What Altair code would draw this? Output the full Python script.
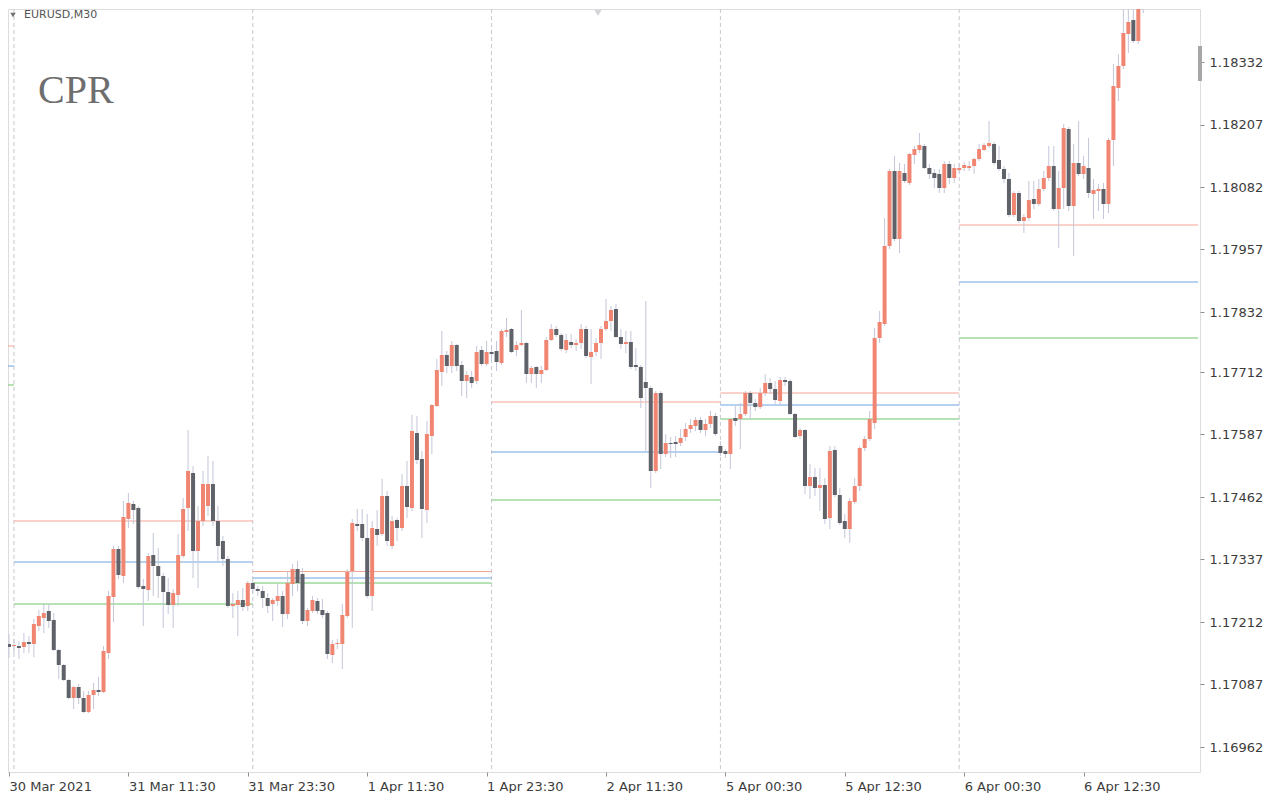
import altair as alt
import pandas as pd

# ---- candle data (EURUSD M30), index 0 = 30 Mar 23:30 ----
opens = [1.17168,1.17164,1.17164,1.17162,1.17172,1.17168,1.17204,1.17220,1.17234,1.17216,
1.17156,1.17126,1.17096,1.17060,1.17082,1.17060,1.17032,1.17066,1.17076,1.17072,
1.17150,1.17262,1.17358,1.17304,1.17418,1.17448,1.17440,1.17284,1.17276,1.17346,
1.17324,1.17304,1.17272,1.17246,1.17266,1.17344,1.17440,1.17510,1.17354,1.17414,
1.17444,1.17488,1.17414,1.17374,1.17338,1.17244,1.17246,1.17256,1.17244,1.17290,
1.17278,1.17274,1.17260,1.17248,1.17254,1.17264,1.17228,1.17288,1.17318,1.17308,
1.17214,1.17234,1.17254,1.17236,1.17230,1.17146,1.17168,1.17168,1.17224,1.17314,
1.17408,1.17408,1.17380,1.17264,1.17398,1.17388,1.17464,1.17364,1.17416,1.17400,
1.17484,1.17440,1.17590,1.17538,1.17436,1.17584,1.17644,1.17712,1.17746,1.17724,
1.17766,1.17726,1.17694,1.17702,1.17694,1.17756,1.17728,1.17752,1.17754,1.17730,
1.17792,1.17798,1.17756,1.17766,1.17770,1.17708,1.17722,1.17708,1.17716,1.17776,
1.17798,1.17786,1.17756,1.17772,1.17766,1.17770,1.17798,1.17742,1.17752,1.17770,
1.17798,1.17814,1.17838,1.17782,1.17768,1.17772,1.17726,1.17722,1.17692,1.17680,
1.17514,1.17670,1.17548,1.17570,1.17572,1.17570,1.17582,1.17598,1.17604,1.17616,
1.17596,1.17608,1.17624,1.17564,1.17554,1.17548,1.17620,1.17618,1.17628,1.17670,
1.17650,1.17642,1.17670,1.17690,1.17678,1.17654,1.17696,1.17694,1.17628,1.17584,
1.17596,1.17484,1.17502,1.17480,1.17486,1.17420,1.17556,1.17466,1.17414,1.17398,
1.17452,1.17484,1.17560,1.17578,1.17610,1.17780,1.17808,1.17964,1.18114,1.17978,
1.18110,1.18090,1.18146,1.18156,1.18164,1.18120,1.18110,1.18108,1.18080,1.18128,
1.18100,1.18116,1.18120,1.18120,1.18124,1.18138,1.18156,1.18164,1.18168,1.18136,
1.18118,1.18098,1.18026,1.18070,1.18014,1.18020,1.18058,1.18048,1.18078,1.18100,
1.18124,1.18038,1.18080,1.18198,1.18044,1.18130,1.18108,1.18120,1.18068,1.18074,
1.18078,1.18048,1.18176,1.18280,1.18324,1.18388,1.18416,1.18374,1.18438]
highs = [1.17188,1.17178,1.17174,1.17190,1.17184,1.17218,1.17236,1.17248,1.17248,1.17230,
1.17158,1.17128,1.17098,1.17084,1.17088,1.17074,1.17074,1.17090,1.17102,1.17164,
1.17274,1.17364,1.17364,1.17454,1.17470,1.17454,1.17444,1.17298,1.17350,1.17390,
1.17360,1.17310,1.17300,1.17278,1.17388,1.17460,1.17596,1.17524,1.17444,1.17514,
1.17544,1.17534,1.17444,1.17384,1.17344,1.17270,1.17274,1.17280,1.17294,1.17296,
1.17284,1.17284,1.17270,1.17260,1.17288,1.17274,1.17314,1.17328,1.17334,1.17320,
1.17240,1.17264,1.17260,1.17258,1.17234,1.17176,1.17178,1.17248,1.17318,1.17418,
1.17438,1.17438,1.17428,1.17414,1.17436,1.17498,1.17474,1.17424,1.17420,1.17508,
1.17534,1.17626,1.17624,1.17554,1.17614,1.17648,1.17738,1.17794,1.17754,1.17774,
1.17768,1.17734,1.17714,1.17714,1.17764,1.17764,1.17774,1.17764,1.17774,1.17798,
1.17820,1.17800,1.17774,1.17836,1.17772,1.17724,1.17724,1.17724,1.17782,1.17808,
1.17804,1.17790,1.17788,1.17788,1.17778,1.17808,1.17804,1.17798,1.17780,1.17804,
1.17858,1.17844,1.17848,1.17798,1.17794,1.17794,1.17760,1.17726,1.17854,1.17684,
1.17674,1.17674,1.17588,1.17582,1.17584,1.17598,1.17610,1.17618,1.17622,1.17622,
1.17618,1.17634,1.17630,1.17574,1.17558,1.17618,1.17644,1.17650,1.17674,1.17674,
1.17658,1.17680,1.17708,1.17700,1.17694,1.17702,1.17702,1.17698,1.17630,1.17600,
1.17598,1.17528,1.17520,1.17520,1.17500,1.17564,1.17564,1.17480,1.17428,1.17460,
1.17500,1.17564,1.17584,1.17634,1.17800,1.17834,1.18020,1.18118,1.18144,1.18130,
1.18128,1.18150,1.18164,1.18190,1.18168,1.18128,1.18118,1.18118,1.18134,1.18134,
1.18128,1.18130,1.18132,1.18134,1.18140,1.18168,1.18170,1.18214,1.18172,1.18164,
1.18124,1.18110,1.18074,1.18074,1.18028,1.18094,1.18094,1.18098,1.18114,1.18164,
1.18164,1.18114,1.18208,1.18202,1.18168,1.18214,1.18144,1.18180,1.18098,1.18088,
1.18090,1.18180,1.18328,1.18348,1.18470,1.18470,1.18470,1.18470,1.18470]
lows = [1.17140,1.17150,1.17138,1.17150,1.17150,1.17142,1.17194,1.17190,1.17200,1.17154,
1.17098,1.17094,1.17058,1.17038,1.17048,1.17030,1.17030,1.17038,1.17064,1.17070,
1.17138,1.17212,1.17298,1.17290,1.17400,1.17408,1.17278,1.17204,1.17254,1.17264,
1.17260,1.17200,1.17228,1.17200,1.17244,1.17340,1.17394,1.17300,1.17280,1.17404,
1.17424,1.17404,1.17334,1.17324,1.17240,1.17220,1.17184,1.17234,1.17234,1.17268,
1.17264,1.17240,1.17230,1.17214,1.17244,1.17202,1.17218,1.17264,1.17274,1.17208,
1.17204,1.17230,1.17228,1.17220,1.17138,1.17130,1.17158,1.17118,1.17220,1.17200,
1.17394,1.17374,1.17260,1.17234,1.17364,1.17384,1.17364,1.17358,1.17374,1.17394,
1.17420,1.17434,1.17528,1.17380,1.17410,1.17548,1.17642,1.17684,1.17710,1.17710,
1.17714,1.17664,1.17660,1.17680,1.17688,1.17724,1.17724,1.17734,1.17714,1.17726,
1.17782,1.17750,1.17744,1.17764,1.17690,1.17690,1.17680,1.17690,1.17714,1.17774,
1.17782,1.17754,1.17750,1.17760,1.17754,1.17758,1.17740,1.17688,1.17744,1.17738,
1.17794,1.17794,1.17780,1.17758,1.17750,1.17718,1.17714,1.17640,1.17554,1.17480,
1.17510,1.17518,1.17542,1.17540,1.17542,1.17564,1.17574,1.17590,1.17594,1.17590,
1.17584,1.17600,1.17584,1.17544,1.17540,1.17518,1.17604,1.17558,1.17624,1.17618,
1.17634,1.17638,1.17664,1.17668,1.17648,1.17644,1.17684,1.17626,1.17580,1.17578,
1.17468,1.17458,1.17464,1.17434,1.17408,1.17398,1.17462,1.17406,1.17380,1.17370,
1.17448,1.17474,1.17554,1.17574,1.17598,1.17770,1.17804,1.17958,1.17974,1.17950,
1.18090,1.18086,1.18128,1.18150,1.18118,1.18098,1.18080,1.18070,1.18070,1.18088,
1.18090,1.18110,1.18114,1.18114,1.18108,1.18134,1.18154,1.18160,1.18126,1.18114,
1.18090,1.18022,1.18022,1.18010,1.17990,1.18014,1.18038,1.18044,1.18074,1.18094,
1.18034,1.17960,1.18038,1.18034,1.17944,1.18104,1.18098,1.18060,1.18018,1.18034,
1.18018,1.18030,1.18124,1.18254,1.18318,1.18350,1.18370,1.18368,1.18430]
closes = [1.17162,1.17166,1.17160,1.17172,1.17168,1.17208,1.17224,1.17230,1.17214,1.17156,
1.17126,1.17096,1.17060,1.17082,1.17060,1.17032,1.17066,1.17076,1.17072,1.17154,
1.17264,1.17358,1.17306,1.17422,1.17450,1.17436,1.17282,1.17278,1.17344,1.17324,
1.17304,1.17272,1.17246,1.17270,1.17346,1.17438,1.17514,1.17354,1.17414,1.17488,
1.17488,1.17414,1.17364,1.17338,1.17244,1.17248,1.17256,1.17242,1.17290,1.17278,
1.17274,1.17260,1.17244,1.17256,1.17264,1.17228,1.17290,1.17318,1.17290,1.17214,
1.17236,1.17256,1.17234,1.17226,1.17148,1.17168,1.17170,1.17226,1.17312,1.17410,
1.17404,1.17380,1.17264,1.17400,1.17386,1.17464,1.17374,1.17414,1.17400,1.17484,
1.17442,1.17594,1.17536,1.17438,1.17588,1.17646,1.17716,1.17746,1.17724,1.17766,
1.17724,1.17694,1.17706,1.17690,1.17752,1.17728,1.17752,1.17748,1.17732,1.17794,
1.17796,1.17752,1.17766,1.17770,1.17708,1.17720,1.17708,1.17716,1.17776,1.17798,
1.17786,1.17758,1.17776,1.17766,1.17770,1.17798,1.17744,1.17752,1.17770,1.17798,
1.17814,1.17836,1.17782,1.17768,1.17772,1.17722,1.17722,1.17660,1.17680,1.17514,
1.17670,1.17548,1.17570,1.17568,1.17568,1.17580,1.17598,1.17606,1.17616,1.17596,
1.17608,1.17624,1.17588,1.17550,1.17548,1.17618,1.17614,1.17628,1.17670,1.17650,
1.17642,1.17670,1.17690,1.17678,1.17656,1.17696,1.17692,1.17628,1.17582,1.17596,
1.17484,1.17502,1.17480,1.17486,1.17418,1.17554,1.17466,1.17410,1.17398,1.17454,
1.17484,1.17560,1.17578,1.17618,1.17780,1.17812,1.17964,1.18114,1.17978,1.18114,
1.18094,1.18148,1.18158,1.18166,1.18120,1.18108,1.18100,1.18080,1.18128,1.18100,
1.18120,1.18120,1.18126,1.18124,1.18138,1.18158,1.18166,1.18170,1.18130,1.18118,
1.18098,1.18026,1.18070,1.18014,1.18022,1.18056,1.18048,1.18078,1.18100,1.18124,
1.18038,1.18080,1.18200,1.18044,1.18130,1.18108,1.18124,1.18070,1.18076,1.18078,
1.18048,1.18176,1.18284,1.18324,1.18390,1.18412,1.18374,1.18440,1.18448]

# ---- CPR levels per trading day (top central, pivot, bottom central) ----
day_start = [-0.2, 1, 49, 97, 143, 191]
day_end = [1, 49, 97, 143, 191, 239]
cpr_top = [1.17764, 1.17414, 1.17313, 1.17652, 1.17670, 1.18006]
cpr_pivot = [1.17724, 1.17332, 1.17300, 1.17552, 1.17646, 1.17892]
cpr_bottom = [1.17686, 1.17248, 1.17290, 1.17456, 1.17618, 1.17780]

separators = [1, 49, 97, 143, 191]

price_ticks = [1.18332, 1.18207, 1.18082, 1.17957, 1.17832, 1.17712,
               1.17587, 1.17462, 1.17337, 1.17212, 1.17087, 1.16962]
time_tick_pos = [0, 24, 48, 72, 96, 120, 144, 168, 192, 216]
time_tick_labels = ["30 Mar 2021", "31 Mar 11:30", "31 Mar 23:30", "1 Apr 11:30",
                    "1 Apr 23:30", "2 Apr 11:30", "5 Apr 00:30", "5 Apr 12:30",
                    "6 Apr 00:30", "6 Apr 12:30"]

BULL = "#f08572"
BEAR = "#5f6268"
WICK = "#c4c7d9"
AXIS_FONT = "DejaVu Sans"

candles = pd.DataFrame({"k": list(range(len(opens))), "o": opens, "h": highs,
                        "l": lows, "c": closes})

cpr_rows = []
for i in range(len(day_start)):
    for name, vals in (("top", cpr_top), ("pivot", cpr_pivot), ("bottom", cpr_bottom)):
        cpr_rows.append({"s": day_start[i], "e": day_end[i], "v": vals[i], "line": name})
cpr = pd.DataFrame(cpr_rows)

xscale = alt.Scale(domain=[-0.2, 239.4], nice=False, zero=False, padding=0)
yscale = alt.Scale(domain=[1.16912, 1.18438], nice=False, zero=False, padding=0)

label_expr = "[" + ",".join("'%s'" % t for t in time_tick_labels) + "][round(datum.value / 24)]"

x_axis = alt.Axis(values=time_tick_pos, labelExpr=label_expr, title=None, grid=False,
                  domain=False, ticks=True, tickSize=4, tickColor="#909090",
                  labelAlign="left", labelPadding=4, labelFont=AXIS_FONT, labelFontSize=13,
                  labelColor="#3c3c3c", labelFlush=False)
y_axis = alt.Axis(values=price_ticks, format=".5f", title=None, grid=False, orient="right",
                  domain=False, ticks=True, tickSize=4, tickColor="#909090",
                  labelPadding=5, labelFont=AXIS_FONT, labelFontSize=13,
                  labelColor="#3c3c3c")

base = alt.Chart(candles)

seps = alt.Chart(pd.DataFrame({"k": separators})).mark_rule(
    color="#c8c8d0", strokeDash=[4, 3], strokeWidth=1
).encode(x=alt.X("k:Q", scale=xscale, axis=x_axis))

wicks = base.mark_rule(color=WICK, strokeWidth=1, clip=True).encode(
    x=alt.X("k:Q", scale=xscale, axis=x_axis),
    y=alt.Y("l:Q", scale=yscale, axis=y_axis),
    y2="h:Q",
)

bodies = base.mark_bar(size=4, clip=True).encode(
    x=alt.X("k:Q", scale=xscale, axis=x_axis),
    y=alt.Y("o:Q", scale=yscale, axis=y_axis),
    y2="c:Q",
    color=alt.condition("datum.c >= datum.o", alt.value(BULL), alt.value(BEAR)),
)

cpr_lines = alt.Chart(cpr).mark_rule(strokeWidth=1, clip=True).encode(
    x=alt.X("s:Q", scale=xscale, axis=x_axis),
    x2="e:Q",
    y=alt.Y("v:Q", scale=yscale, axis=y_axis),
    color=alt.Color("line:N", scale=alt.Scale(domain=["top", "pivot", "bottom"],
                                              range=["#f5a596", "#6fa3e0", "#6cc46c"]),
                    legend=None),
)

title_df = pd.DataFrame({"t": ["CPR"]})
cpr_title = alt.Chart(title_df).mark_text(
    align="left", baseline="middle", font="Liberation Serif", fontSize=40, color="#6e6e6e"
).encode(x=alt.value(30), y=alt.value(82), text="t:N")

sym_df = pd.DataFrame({"t": ["EURUSD,M30"]})
sym_text = alt.Chart(sym_df).mark_text(
    align="left", baseline="middle", font=AXIS_FONT, fontSize=11, color="#555555"
).encode(x=alt.value(16), y=alt.value(6), text="t:N")
sym_tri = alt.Chart(sym_df).mark_point(
    shape="triangle-down", filled=True, size=30, color="#707070", opacity=1
).encode(x=alt.value(5), y=alt.value(6))
shift_tri = alt.Chart(sym_df).mark_point(
    shape="triangle-down", filled=True, size=50, color="#d4d4d8", opacity=1
).encode(x=alt.value(590), y=alt.value(4))
scroll_mark = alt.Chart(sym_df).mark_rule(
    color="#a6a6a6", strokeWidth=4
).encode(x=alt.value(1192), y=alt.value(37), y2=alt.value(72))

chart = alt.layer(seps, cpr_lines, wicks, bodies, cpr_title, sym_text, sym_tri,
                  shift_tri, scroll_mark).properties(
    width=1192, height=763, padding={"left": 0, "top": 0, "right": 5, "bottom": 0}
).configure_view(stroke="#9a9a9a", strokeWidth=1, fill="#ffffff").configure(
    background="#ffffff"
)

chart.save("out.html", embed_options={"renderer": "svg", "actions": False})
